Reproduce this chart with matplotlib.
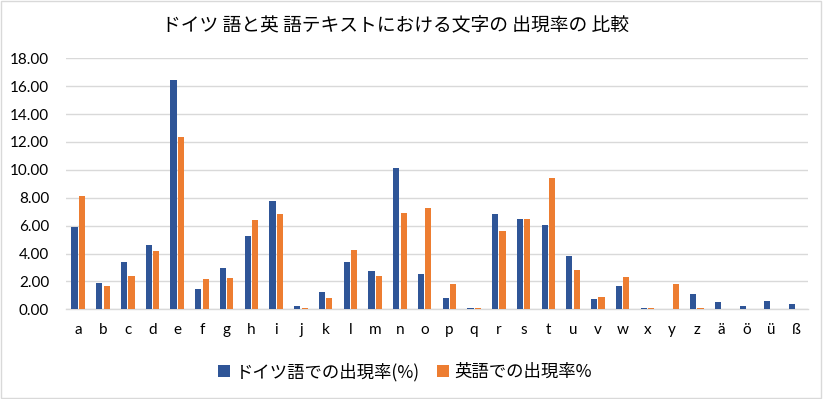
import numpy as np
from matplotlib import pyplot as plt
from matplotlib.patches import Rectangle

letters = list("abcdefghijklmnopqrstuvwxyz") + ["ä", "ö", "ü", "ß"]
german = [5.90, 1.89, 3.42, 4.64, 16.47, 1.48, 2.99, 5.28, 7.79, 0.26,
          1.27, 3.42, 2.77, 10.16, 2.56, 0.84, 0.12, 6.86, 6.48, 6.07,
          3.85, 0.76, 1.70, 0.12, 0.00, 1.12, 0.55, 0.26, 0.62, 0.41]
english = [8.15, 1.70, 2.41, 4.21, 12.38, 2.20, 2.27, 6.43, 6.86, 0.12,
           0.84, 4.28, 2.41, 6.93, 7.27, 1.84, 0.12, 5.64, 6.48, 9.44,
           2.84, 0.91, 2.34, 0.12, 1.84, 0.12, 0.00, 0.00, 0.00, 0.00]
y_ticks = np.arange(0, 20, 2)

title = "ドイツ 語と英 語テキストにおける文字の 出現率の 比較"
label_de = "ドイツ語での出現率(%)"
label_en = "英語での出現率%"

plt.rcParams["font.family"] = ["Lato", "Noto Sans CJK JP", "DejaVu Sans"]

fig = plt.figure(figsize=(8.23, 3.99), dpi=100)
ax = fig.add_axes([0.080, 0.2248, 0.902, 0.629])

x = np.arange(len(letters))
w = 0.25
ax.bar(x - 0.15, german, width=w, color="#2F5597", label=label_de, zorder=3)
ax.bar(x + 0.15, english, width=w, color="#ED7D31", label=label_en, zorder=3)

ax.set_xlim(-0.5, len(letters) - 0.5)
ax.set_ylim(0, 18)
ax.set_yticks(y_ticks)
ax.set_yticklabels([f"{v:.2f}" for v in y_ticks])
ax.set_xticks(x)
ax.set_xticklabels(letters)
ax.tick_params(axis="both", length=0, labelsize=11, colors="#000000")
ax.tick_params(axis="y", pad=12)
ax.tick_params(axis="x", pad=10)
ax.grid(axis="y", color="#D9D9D9", linewidth=1, zorder=0)
for side in ["top", "right", "left"]:
    ax.spines[side].set_visible(False)
ax.spines["bottom"].set_color("#D9D9D9")
ax.spines["bottom"].set_linewidth(1)

fig.suptitle(title, x=0.481, y=0.965, fontsize=13.5,
             family=["Noto Sans CJK JP", "DejaVu Sans"], color="#000000")

fig.legend(loc="center", bbox_to_anchor=(0.492, 0.068), ncol=2, frameon=False,
           prop={"family": ["Noto Sans CJK JP", "DejaVu Sans"], "size": 12.5},
           handlelength=0.7, handleheight=0.7, handletextpad=0.3,
           columnspacing=1.0)

fig.patches.append(Rectangle((0.001, 0.002), 0.997, 0.995, transform=fig.transFigure,
                             fill=False, edgecolor="#D9D9D9", linewidth=1))

plt.savefig("out.png", dpi=100)
